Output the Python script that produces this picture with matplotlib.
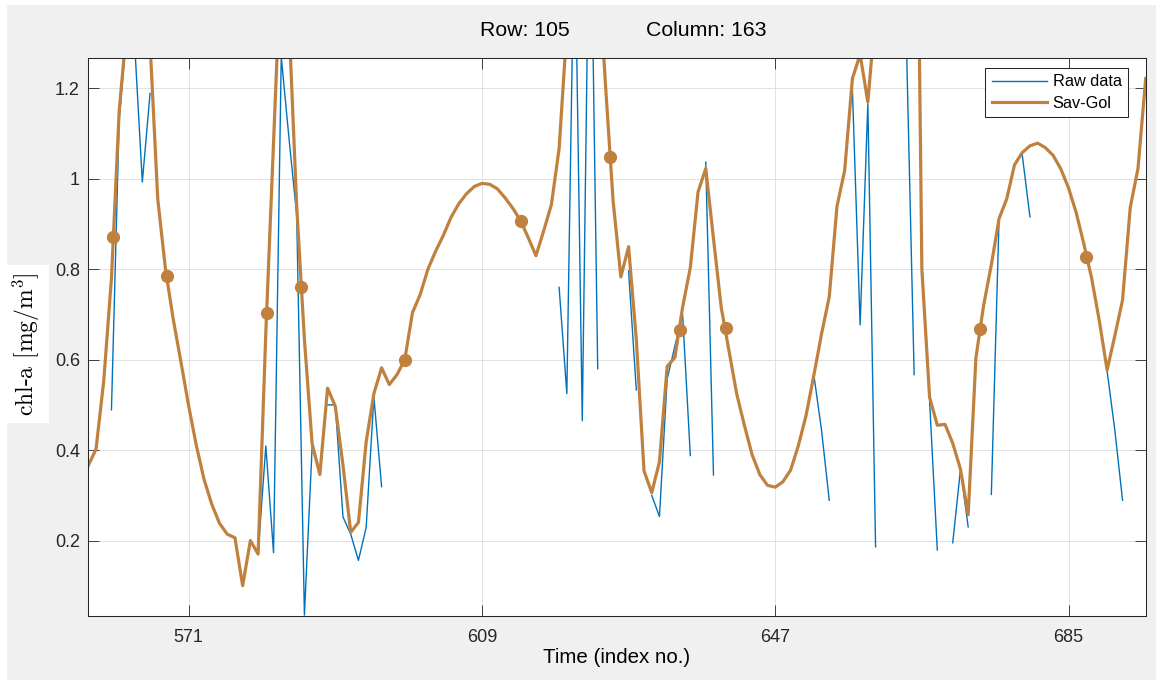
import numpy as np
import matplotlib
matplotlib.use("Agg")
import matplotlib.pyplot as plt
from matplotlib.patches import Rectangle

plt.rcParams['font.family'] = ['Liberation Sans', 'DejaVu Sans']
plt.rcParams['mathtext.fontset'] = 'cm'

# ── data ─────────────────────────────────────────────────────────────────────
nan = np.nan
t = np.arange(558, 696)   # time index 558 .. 695

raw = [
    nan, nan, nan, 0.489, 1.13, 1.33, 1.30, 0.993, 1.189, nan,      # 558-567
    nan, nan, nan, nan, nan, nan, nan, nan, nan, nan,               # 568-577
    nan, nan, 0.171, 0.409, 0.173, 1.27, 1.09, 0.92, 0.035, 0.407,  # 578-587
    nan, 0.50, 0.50, 0.252, 0.214, 0.156, 0.229, 0.518, 0.319, nan, # 588-597
    nan, nan, nan, nan, nan, nan, nan, nan, nan, nan,               # 598-607
    nan, nan, nan, nan, nan, nan, nan, nan, nan, nan,               # 608-617
    nan, 0.76, 0.525, 1.60, 0.465, 1.75, 0.58, nan, nan, nan,       # 618-627
    0.796, 0.533, nan, 0.30, 0.253, 0.557, 0.63, 0.70, 0.388, nan,  # 628-637
    1.037, 0.345, nan, nan, nan, nan, nan, nan, nan, nan,           # 638-647
    nan, nan, nan, nan, 0.567, 0.444, 0.289, nan, nan, 1.198,       # 648-657
    0.677, 1.167, 0.186, nan, nan, nan, 1.30, 0.567, nan, 0.508,    # 658-667
    0.179, nan, 0.195, 0.357, 0.23, nan, nan, 0.302, 0.912, nan,    # 668-677
    nan, 1.054, 0.916, nan, nan, nan, nan, nan, nan, nan,           # 678-687
    nan, nan, 0.575, 0.444, 0.289, nan, nan, nan,                   # 688-695
]

savgol = [
    0.366, 0.402, 0.553, 0.78, 1.15, 1.34, 1.55, 1.55, 1.30, 0.955,     # 558-567
    0.80, 0.69, 0.595, 0.498, 0.41, 0.335, 0.28, 0.238, 0.214, 0.206,   # 568-577
    0.100, 0.200, 0.170, 0.66, 1.083, 1.50, 1.35, 0.94, 0.645, 0.414,   # 578-587
    0.346, 0.537, 0.497, 0.366, 0.218, 0.240, 0.418, 0.525, 0.582, 0.545,  # 588-597
    0.567, 0.600, 0.704, 0.744, 0.800, 0.840, 0.875, 0.915, 0.945, 0.967,  # 598-607
    0.983, 0.990, 0.988, 0.978, 0.958, 0.935, 0.908, 0.870, 0.830, 0.885,  # 608-617
    0.943, 1.067, 1.33, 1.60, 1.75, 1.70, 1.50, 1.21, 0.95, 0.783,      # 618-627
    0.850, 0.645, 0.354, 0.306, 0.374, 0.585, 0.605, 0.716, 0.804, 0.971,  # 628-637
    1.023, 0.868, 0.716, 0.620, 0.525, 0.455, 0.390, 0.346, 0.322, 0.318,  # 638-647
    0.330, 0.356, 0.410, 0.477, 0.565, 0.657, 0.739, 0.939, 1.019, 1.222,  # 648-657
    1.275, 1.170, 1.37, 1.80, 2.30, 2.60, 2.50, 2.30, 0.800, 0.517,     # 658-667
    0.455, 0.457, 0.415, 0.358, 0.257, 0.604, 0.720, 0.810, 0.912, 0.956,  # 668-677
    1.031, 1.058, 1.073, 1.079, 1.069, 1.052, 1.022, 0.980, 0.925, 0.855,  # 678-687
    0.780, 0.685, 0.577, 0.653, 0.732, 0.937, 1.023, 1.222,             # 688-695
]

mark_t = [561.25, 568.2, 581.1, 585.6, 599.0, 614.1, 625.6, 634.6, 640.6, 673.5, 687.3]
mark_v = [0.872, 0.786, 0.703, 0.760, 0.599, 0.906, 1.048, 0.665, 0.670, 0.667, 0.827]

xticks = [571, 609, 647, 685]
yticks = [0.2, 0.4, 0.6, 0.8, 1.0, 1.2]
ytick_labels = ['0.2', '0.4', '0.6', '0.8', '1', '1.2']
# ─────────────────────────────────────────────────────────────────────────────

blue = '#0072BD'
brown = '#C0813F'
dark = '#262626'

W, H = 1156, 680
fig = plt.figure(figsize=(W / 100, H / 100), dpi=100, facecolor='white')
fig.patches.append(Rectangle((7 / W, 0), 1, 675 / H, transform=fig.transFigure,
                             facecolor='#f0f0f0', edgecolor='none', zorder=-10))
ax = fig.add_axes([88.3 / W, 64 / H, 1057.4 / W, 558.3 / H])

ax.plot(t, raw, color=blue, lw=1.0, label='Raw data')
ax.plot(t, savgol, color=brown, lw=2.3, label='Sav-Gol')
ax.plot(mark_t, mark_v, 'o', color=brown, markersize=8.5, zorder=3)

ax.set_xlim(558, 695)
ax.set_ylim(0.033, 1.268)
ax.set_xticks(xticks)
ax.set_yticks(yticks, ytick_labels)
ax.tick_params(direction='in', length=7.6, width=0.6, top=True, right=True,
               labelsize=13, colors=dark)
ax.tick_params(axis='y', pad=6)
ax.tick_params(axis='x', pad=9)
ax.grid(True, color='#dcdcdc', linewidth=0.6)
ax.set_axisbelow(True)
for s in ax.spines.values():
    s.set_color(dark)
    s.set_linewidth(0.75)

ax.set_xlabel('Time (index no.)', fontsize=14.8, color='black', labelpad=2)
ax.set_ylabel(r'chl-a [mg/m$^3$]', family='cmr10', fontsize=17, color='black',
              bbox=dict(facecolor='white', edgecolor='none', pad=5))
ax.yaxis.label.set_va('center')
ax.yaxis.set_label_coords(-0.0584, 0.487)

leg = ax.legend(loc='upper right', bbox_to_anchor=(0.9835, 0.982), borderaxespad=0,
                fancybox=False, edgecolor=dark, framealpha=1, fontsize=11.7,
                handlelength=3.4, handletextpad=0.35, labelspacing=0.4, borderpad=0.4)
leg.get_frame().set_linewidth(0.75)

fig.text(525 / W, 1 - 31 / H, 'Row: 105', ha='center', va='center', fontsize=15.3)
fig.text(706 / W, 1 - 31 / H, 'Column: 163', ha='center', va='center', fontsize=15.3)

fig.savefig('out.png', dpi=100, facecolor=fig.get_facecolor())
